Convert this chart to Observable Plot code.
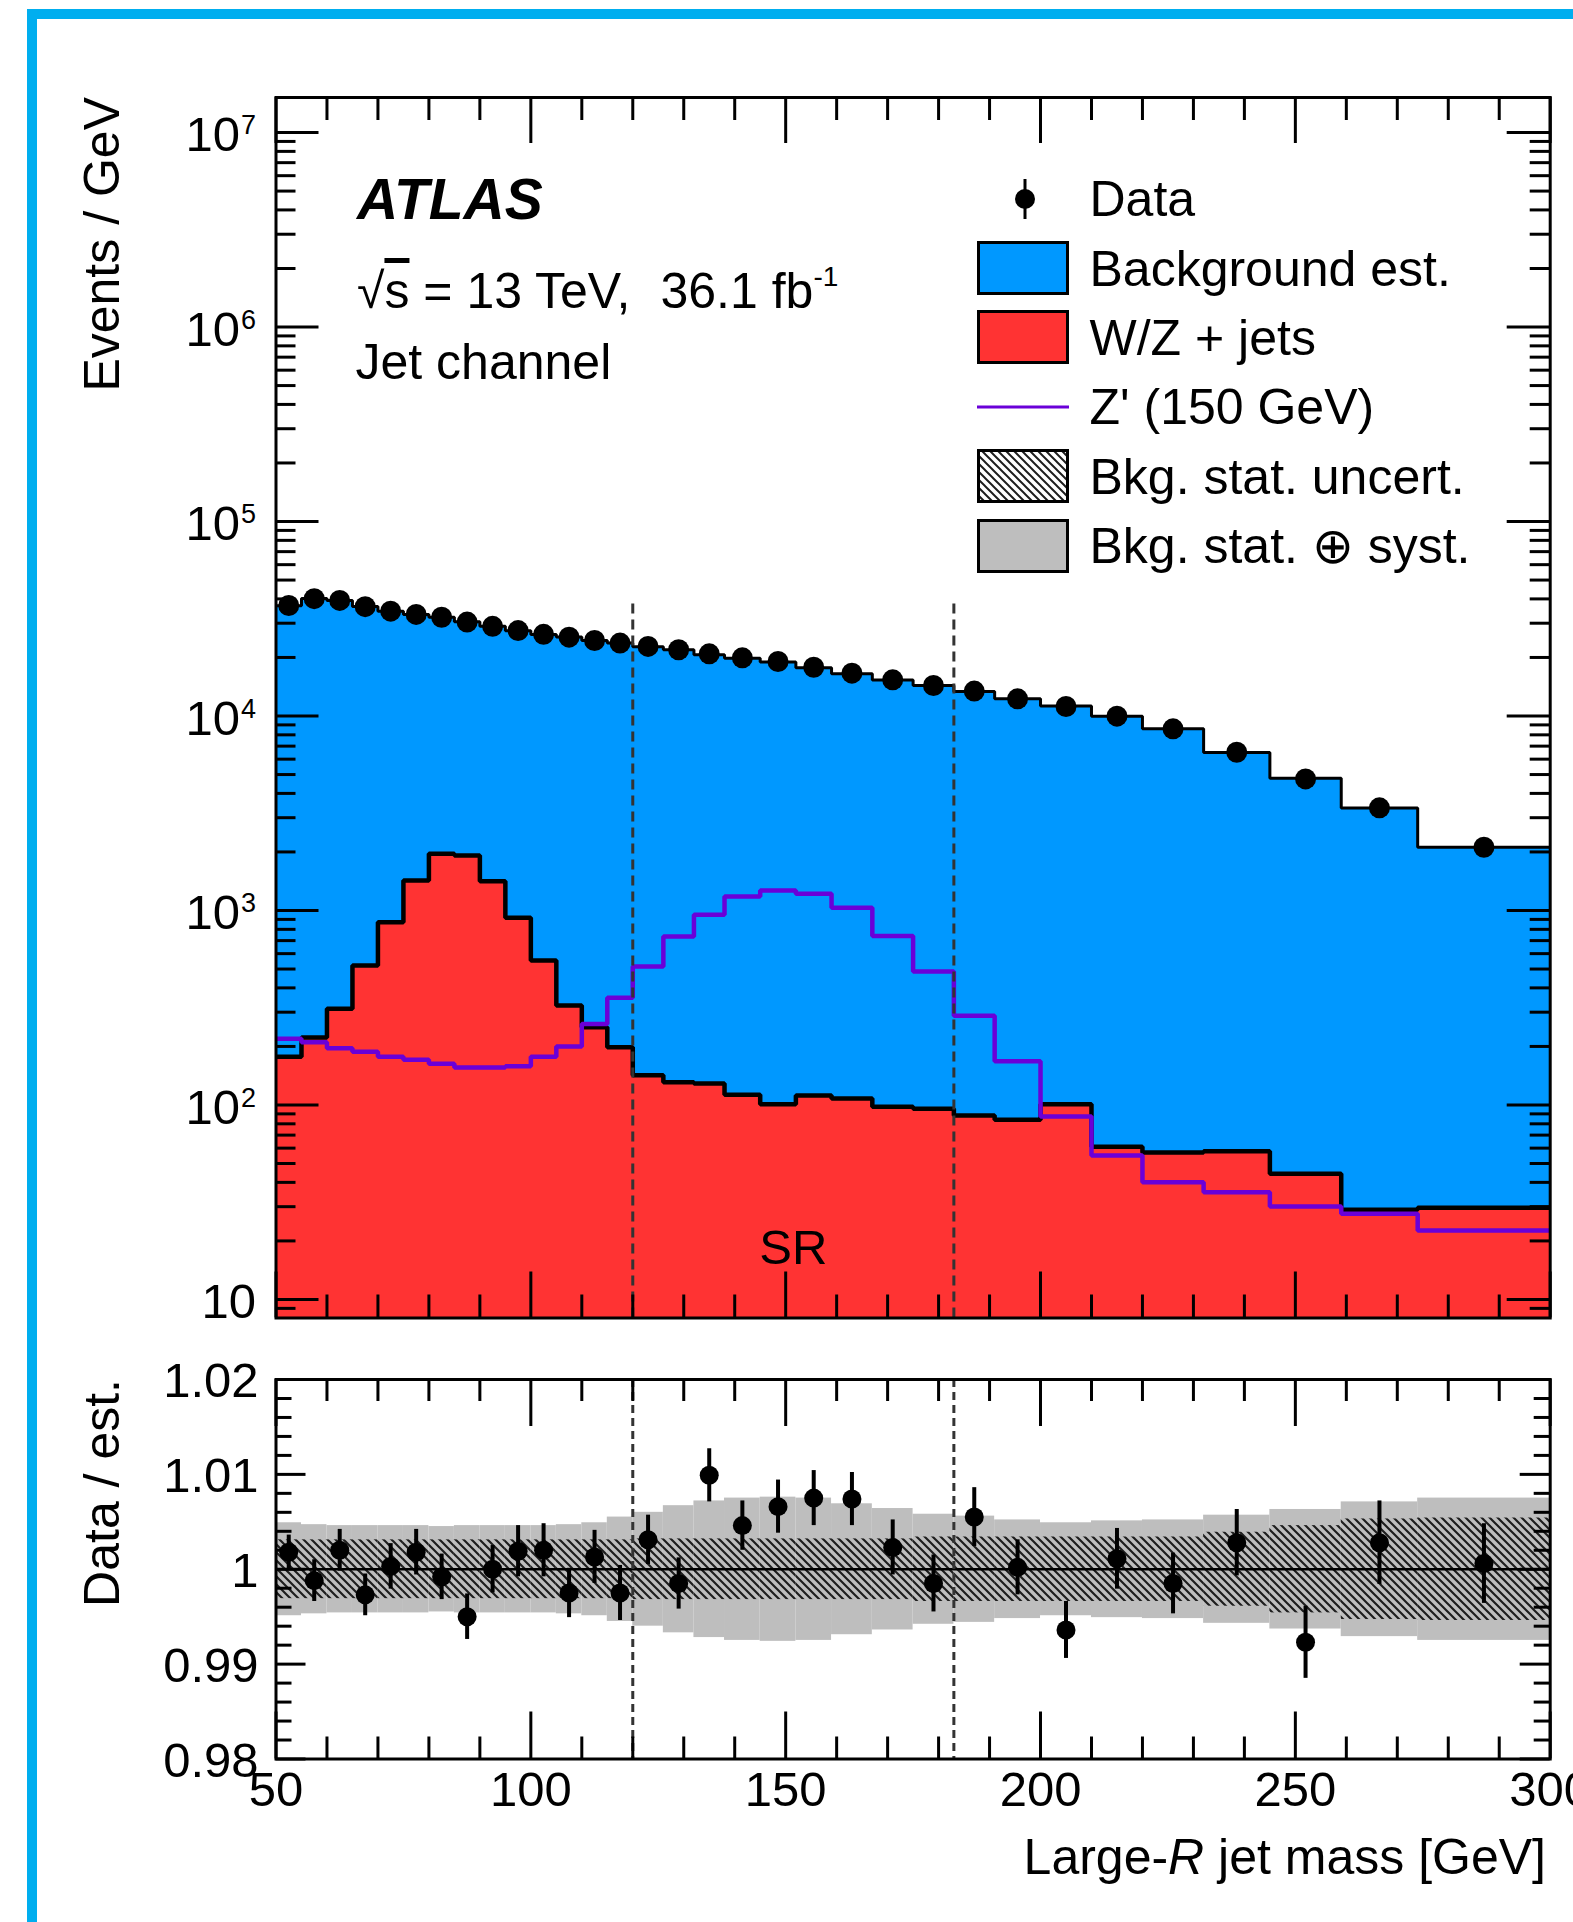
<!DOCTYPE html>
<html>
<head>
<meta charset="utf-8">
<script src="https://cdn.jsdelivr.net/npm/d3@7"></script>
<script src="https://cdn.jsdelivr.net/npm/@observablehq/plot@0.6"></script>
<style>
  html, body { margin: 0; padding: 0; background: #fff; }
  body { width: 1573px; height: 1922px; position: relative; overflow: hidden;
         font-family: "Liberation Sans", Arial, Helvetica, sans-serif; color: #000; }
  .abs { position: absolute; white-space: nowrap; }
  #border { position: absolute; left: 27px; top: 9px; width: 1700px; height: 2100px;
            border: 10px solid #00AEEF; box-sizing: border-box; z-index: 10; }
</style>
</head>
<body>
<div id="main" class="abs" style="left:0;top:0;width:1573px"></div>
<div id="ratio" class="abs" style="left:0;top:1340px;width:1573px"></div>
<div id="overlay"></div>
<div id="border"></div>
<script>
// ---------------- DATA ----------------
const binEdges = [50,55,60,65,70,75,80,85,90,95,100,105,110,115,120,126,132,138,145,152,159,167,175,183,191,200,210,220,232,245,259,274,300];
const dataEvents = [37000,40100,39300,36500,34600,33300,32200,30400,28900,27500,26300,25430,24450,23700,22800,21900,20870,19910,19060,17810,16600,15350,14350,13430,12250,11190,9980,8590,6510,4750,3370,2115];
const bkgTotal = [36900,40150,39220,36600,34590,33240,32230,30550,28900,27450,26250,25490,24420,23760,22730,21930,20670,19820,18940,17680,16480,15310,14370,13360,12250,11260,9970,8600,6490,4790,3360,2114];
const wzJets = [177,222,312,521,871,1426,1957,1919,1415,917,553,325,251,198,142,131,129,113,101,112,108,98,95.5,88.3,84,101,61,57,57.8,44.3,28.9,29.6];
const zPrime = [219,210,196,188,177,171,163,156,156,158,177,200,261,356,515,735,950,1181,1268,1219,1033,740,486,288,168,87.3,55,40,35.6,30.1,27.6,22.6];
const ratioValues = [1.0018,0.9988,1.0020,0.9973,1.0003,1.0018,0.9992,0.9950,1.0000,1.0019,1.0020,0.9975,1.0013,0.9975,1.0031,0.9985,1.0099,1.0046,1.0066,1.0075,1.0074,1.0023,0.9985,1.0055,1.0002,0.9936,1.0011,0.9985,1.0028,0.9923,1.0028,1.0006];
const ratioErr = [0.0018,0.0022,0.0022,0.0022,0.0024,0.0024,0.0024,0.0024,0.0025,0.0027,0.0028,0.0026,0.0028,0.0029,0.0026,0.0027,0.0028,0.0026,0.0028,0.0029,0.0028,0.0029,0.0030,0.0031,0.0029,0.0030,0.0032,0.0032,0.0035,0.0038,0.0044,0.0042];
const statUnc = [0.0031,0.0031,0.0031,0.0031,0.0031,0.0031,0.0031,0.0031,0.0031,0.0031,0.0031,0.0031,0.0031,0.0031,0.0032,0.0032,0.0032,0.0032,0.0032,0.0032,0.0032,0.0032,0.0034,0.0034,0.0034,0.0034,0.0034,0.0034,0.0039,0.0046,0.0053,0.0054];
const totUnc = [0.0049,0.0047,0.0046,0.0046,0.0046,0.0046,0.0045,0.0046,0.0046,0.0046,0.0046,0.0047,0.0049,0.0055,0.0060,0.0067,0.0072,0.0075,0.0076,0.0075,0.0069,0.0064,0.0058,0.0056,0.0052,0.0049,0.0051,0.0052,0.0057,0.0063,0.0071,0.0075];
const srEdges = [120, 183];
const srLabel = [{text: "SR", x: 151.5, y: 18.4}];
const mainYTicks = [10, 1e2, 1e3, 1e4, 1e5, 1e6, 1e7];
const mainYTickLabels = ["10", "10^2", "10^3", "10^4", "10^5", "10^6", "10^7"];
const ratioYTicks = [0.98, 0.99, 1.0, 1.01, 1.02];
const ratioYTickLabels = ["0.98", "0.99", "1", "1.01", "1.02"];
const xTicks = [50, 100, 150, 200, 250, 300];
const xTickLabels = ["50", "100", "150", "200", "250", "300"];
const legendLabels = ["Data", "Background est.", "W/Z + jets", "Z' (150 GeV)", "Bkg. stat. uncert.", "Bkg. stat. \u2295 syst."];
const legendKinds = ["marker", "blue", "red", "line", "hatch", "gray"];

// ---------------- STYLE / LAYOUT ----------------
const BLUE = "#0098FF", RED = "#FF3333", PURPLE = "#6A00D8", GRAY = "#BEBEBE";
const FONT = "Liberation Sans, Arial, Helvetica, sans-serif";
const W = 1573;
const FX0 = 275.5, FX1 = 1549.7, FRAME_W = FX1 - FX0;
const MAIN_H = 1330, M_TOP = 97, M_BOT = 1317.5, MAIN_FH = M_BOT - M_TOP;
const R_SVG_TOP = 1340, R_H = 582, R_TOP = 1379, R_BOT = 1758.5, RATIO_FH = R_BOT - R_TOP;
const Y_MIN = 8.03, Y_MAX = 1.514e7;
const DASH_TOP = 4e4;

const bins = binEdges.slice(0, -1).map((x1, i) => ({
  x1, x2: binEdges[i + 1], xc: (x1 + binEdges[i + 1]) / 2,
  data: dataEvents[i], total: bkgTotal[i], wz: wzJets[i], zp: zPrime[i],
  ratio: ratioValues[i], err: ratioErr[i], stat: statUnc[i], tot: totUnc[i]
}));
const steps = key => bins.flatMap(b => [{x: b.x1, y: b[key]}, {x: b.x2, y: b[key]}]);

const mainMinorY = [];
for (let e = 0; e <= 7; e++) for (let m = 2; m <= 9; m++) {
  const v = m * Math.pow(10, e);
  if (v > Y_MIN && v < Y_MAX) mainMinorY.push(v);
}
const xMinor = d3.range(50, 301, 10).filter(v => v % 50 !== 0);
const ratioMinorY = d3.range(490, 511).filter(k => k % 5 !== 0).map(k => k * 0.002);

function yTickMarks(values, len, w) {
  return [
    Plot.tickY(values, {y: d => d, insetRight: FRAME_W - len, stroke: "black", strokeWidth: w}),
    Plot.tickY(values, {y: d => d, insetLeft: FRAME_W - len, stroke: "black", strokeWidth: w})
  ];
}
function xTickMarks(values, len, w, fh) {
  return [
    Plot.tickX(values, {x: d => d, insetTop: fh - len, stroke: "black", strokeWidth: w}),
    Plot.tickX(values, {x: d => d, insetBottom: fh - len, stroke: "black", strokeWidth: w})
  ];
}
function superscripts(svg) {
  svg.querySelectorAll("text").forEach(t => {
    const s = t.textContent;
    if (s.includes("^")) {
      const [base, exp] = s.split("^");
      t.textContent = "";
      const ns = "http://www.w3.org/2000/svg";
      const a = document.createElementNS(ns, "tspan"); a.textContent = base; t.appendChild(a);
      const b = document.createElementNS(ns, "tspan"); b.textContent = exp;
      b.setAttribute("font-size", "27"); b.setAttribute("dy", "-17"); b.setAttribute("dx", "1");
      t.appendChild(b);
    }
  });
}

// ---------------- MAIN PANEL ----------------
const mainSvg = Plot.plot({
  width: W, height: MAIN_H,
  marginLeft: FX0, marginRight: W - FX1, marginTop: M_TOP, marginBottom: MAIN_H - M_BOT,
  style: {fontFamily: FONT, background: "transparent", overflow: "visible"},
  x: {domain: [50, 300], axis: null},
  y: {type: "log", domain: [Y_MIN, Y_MAX], axis: null},
  marks: [
    Plot.areaY(steps("total"), {x: "x", y1: () => Y_MIN, y2: "y", fill: BLUE, curve: "linear"}),
    Plot.areaY(steps("wz"), {x: "x", y1: () => Y_MIN, y2: "y", fill: RED, curve: "linear"}),
    Plot.line(steps("total"), {x: "x", y: "y", stroke: "black", strokeWidth: 3, strokeLinejoin: "miter", strokeLinecap: "butt"}),
    Plot.line(steps("wz"), {x: "x", y: "y", stroke: "black", strokeWidth: 4.5, strokeLinejoin: "miter", strokeLinecap: "butt"}),
    Plot.line(steps("zp"), {x: "x", y: "y", stroke: PURPLE, strokeWidth: 4.5, strokeLinejoin: "miter", strokeLinecap: "butt"}),
    Plot.ruleX(srEdges, {x: d => d, y1: () => Y_MIN, y2: () => DASH_TOP, stroke: "#333", strokeWidth: 3, strokeDasharray: "10,6"}),
    Plot.dot(bins, {x: "xc", y: "data", r: 10.5, fill: "black", stroke: "none"}),
    Plot.text(srLabel, {x: "x", y: "y", text: "text", fontSize: 49, textAnchor: "middle"}),
    ...yTickMarks(mainYTicks, 43, 3),
    ...yTickMarks(mainMinorY, 20, 3),
    ...xTickMarks(xTicks, 46, 3, MAIN_FH),
    ...xTickMarks(xMinor, 23, 3, MAIN_FH),
    Plot.frame({stroke: "black", strokeWidth: 3}),
    Plot.text(mainYTicks, {y: d => d, text: (d, i) => mainYTickLabels[i], frameAnchor: "left", textAnchor: "end", dx: -20, dy: 3, fontSize: 49})
  ]
});
superscripts(mainSvg);
document.getElementById("main").appendChild(mainSvg);

// ---------------- RATIO PANEL ----------------
const ratioSvg = Plot.plot({
  width: W, height: R_H,
  marginLeft: FX0, marginRight: W - FX1, marginTop: R_TOP - R_SVG_TOP, marginBottom: R_SVG_TOP + R_H - R_BOT,
  style: {fontFamily: FONT, background: "transparent", overflow: "visible"},
  x: {domain: [50, 300], axis: null},
  y: {domain: [0.98, 1.02], axis: null},
  marks: [
    Plot.rect(bins, {x1: "x1", x2: "x2", y1: d => 1 - d.tot, y2: d => 1 + d.tot, fill: GRAY}),
    Plot.rect(bins, {x1: "x1", x2: "x2", y1: d => 1 - d.stat, y2: d => 1 + d.stat, fill: "url(#hatch)"}),
    Plot.ruleY([1], {stroke: "black", strokeWidth: 2.5}),
    Plot.ruleX(srEdges, {x: d => d, stroke: "#333", strokeWidth: 3, strokeDasharray: "8,5"}),
    Plot.ruleX(bins, {x: "xc", y1: d => d.ratio - d.err, y2: d => d.ratio + d.err, stroke: "black", strokeWidth: 4}),
    Plot.dot(bins, {x: "xc", y: "ratio", r: 9.5, fill: "black", stroke: "none"}),
    ...yTickMarks(ratioYTicks, 30, 3),
    ...yTickMarks(ratioMinorY, 16, 3),
    ...xTickMarks(xTicks, 47, 3, RATIO_FH),
    ...xTickMarks(xMinor, 22, 3, RATIO_FH),
    Plot.frame({stroke: "black", strokeWidth: 3}),
    Plot.text(ratioYTicks, {y: d => d, text: (d, i) => ratioYTickLabels[i], frameAnchor: "left", textAnchor: "end", dx: -17.5, dy: 2, fontSize: 49}),
    Plot.text(xTicks, {x: d => d, text: (d, i) => xTickLabels[i], frameAnchor: "bottom", lineAnchor: "top", dy: 12.5, fontSize: 49})
  ]
});
{
  const ns = "http://www.w3.org/2000/svg";
  const defs = document.createElementNS(ns, "defs");
  defs.innerHTML = '<pattern id="hatch" patternUnits="userSpaceOnUse" width="8" height="8"><path d="M-2,-2 L10,10 M-2,6 L2,10 M6,-2 L10,2" stroke="#1e1e1e" stroke-width="2.2"/></pattern>';
  ratioSvg.insertBefore(defs, ratioSvg.firstChild);
}
document.getElementById("ratio").appendChild(ratioSvg);

// ---------------- TEXT & LEGEND ----------------
const ov = document.getElementById("overlay");
function addHTML(html) { ov.insertAdjacentHTML("beforeend", html); }

addHTML('<div class="abs" style="left:357px;top:171px;font-size:57px;line-height:57px;font-weight:bold;font-style:italic">ATLAS</div>');
addHTML('<div class="abs" style="left:357px;top:265.7px;font-size:50px;line-height:50px">\u221A<span style="text-decoration:overline">s</span> = 13 TeV,<span style="display:inline-block;width:30px"></span>36.1 fb<span style="font-size:28px;position:relative;top:-22px">-1</span></div>');
addHTML('<div class="abs" style="left:355.5px;top:336.7px;font-size:50px;line-height:50px">Jet channel</div>');

addHTML('<div class="abs" style="left:76.6px;top:497px;width:400px;text-align:right;font-size:50px;line-height:50px;transform:rotate(-90deg);transform-origin:0 0">Events / GeV</div>');
addHTML('<div class="abs" style="left:76.6px;top:1679px;width:300px;text-align:right;font-size:50px;line-height:50px;transform:rotate(-90deg);transform-origin:0 0">Data / est.</div>');
addHTML('<div class="abs" style="left:0;top:1831.7px;width:1546px;text-align:right;font-size:50px;line-height:50px">Large-<i>R</i> jet mass [GeV]</div>');

legendLabels.forEach((label, i) => {
  const c = 198.6 + i * 69.4;
  const kind = legendKinds[i];
  let sw = "";
  if (kind === "marker") {
    sw = '<line x1="48" x2="48" y1="10" y2="50" stroke="black" stroke-width="3"/><circle cx="48" cy="30" r="10" fill="black"/>';
  } else if (kind === "line") {
    sw = `<line x1="0" x2="92" y1="30" y2="30" stroke="${PURPLE}" stroke-width="3"/>`;
  } else {
    const fill = kind === "blue" ? BLUE : kind === "red" ? RED : kind === "gray" ? GRAY : "url(#hatchLeg)";
    const bg = kind === "hatch" ? '<rect x="1.5" y="4.5" width="89" height="51" fill="white"/>' : "";
    sw = `${bg}<rect x="1.5" y="4.5" width="89" height="51" fill="${fill}" stroke="black" stroke-width="3"/>`;
  }
  addHTML(`<svg class="abs" style="left:977px;top:${c - 30}px" width="92" height="60" viewBox="0 0 92 60">
    <defs><pattern id="hatchLeg" patternUnits="userSpaceOnUse" width="8" height="8"><path d="M-2,-2 L10,10 M-2,6 L2,10 M6,-2 L10,2" stroke="#1e1e1e" stroke-width="2"/></pattern></defs>${sw}</svg>`);
  addHTML(`<div class="abs" style="left:1089.5px;top:${c - 24.4}px;font-size:50px;line-height:50px">${label}</div>`);
});
</script>
</body>
</html>
